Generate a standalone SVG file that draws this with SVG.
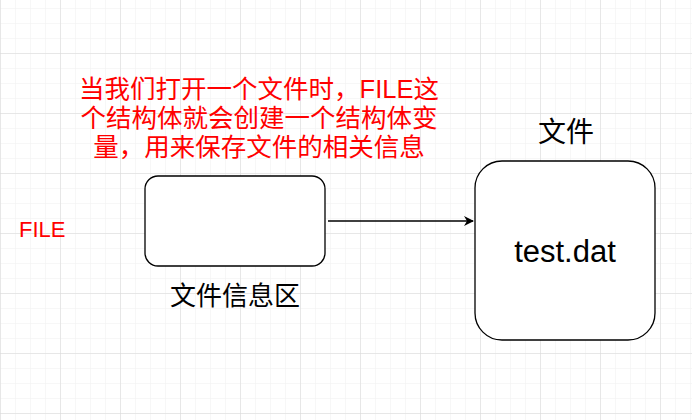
<svg xmlns="http://www.w3.org/2000/svg" width="692" height="420" viewBox="0 0 692 420">
<defs>
<pattern id="minor" width="15" height="15" patternUnits="userSpaceOnUse" x="0" y="8"><path d="M0 0H15M0 0V15" fill="none" stroke="#f0f0f0" stroke-width="1"/></pattern>
<pattern id="major" width="60" height="60" patternUnits="userSpaceOnUse" x="0" y="53"><path d="M0 0H60M0 0V60" fill="none" stroke="#d8d8d8" stroke-width="1"/></pattern>
<marker id="arr" viewBox="0 0 10 10" refX="9" refY="5" markerWidth="10" markerHeight="10" markerUnits="userSpaceOnUse" orient="auto"><path d="M0 0L10 5L0 10L3 5Z" fill="#000"/></marker>
<style>
.box{fill:#fff;stroke:#000;stroke-width:1.3}
.t{font-family:"Liberation Sans","Noto Sans CJK SC",sans-serif;fill:#000}
.r{fill:#ff0000}
</style>
</defs>
<rect width="692" height="420" fill="#fff"/>
<rect width="692" height="420" fill="url(#minor)"/>
<rect width="692" height="420" fill="url(#major)"/>
<g id="note">
<text class="t r" font-size="25.5" x="259" y="98" text-anchor="middle">当我们打开一个文件时，FILE这</text>
<text class="t r" font-size="25.5" x="259" y="127" text-anchor="middle">个结构体就会创建一个结构体变</text>
<text class="t r" font-size="25.5" x="259" y="156" text-anchor="middle">量，用来保存文件的相关信息</text>
</g>
<g id="file-label"><text class="t r" font-size="22" x="19" y="237">FILE</text></g>
<g id="info"><rect class="box" x="145" y="176" width="180" height="90" rx="13"/>
<text class="t" font-size="26" x="235" y="305" text-anchor="middle">文件信息区</text></g>
<g id="file"><rect class="box" x="475" y="161" width="180" height="179" rx="27"/>
<text class="t" font-size="31" x="565" y="262" text-anchor="middle">test.dat</text>
<text class="t" font-size="28" x="566" y="142" text-anchor="middle">文件</text></g>
<g id="connectors"><path d="M328 221H473" stroke="#000" stroke-width="1.3" fill="none" marker-end="url(#arr)"/></g>
</svg>
